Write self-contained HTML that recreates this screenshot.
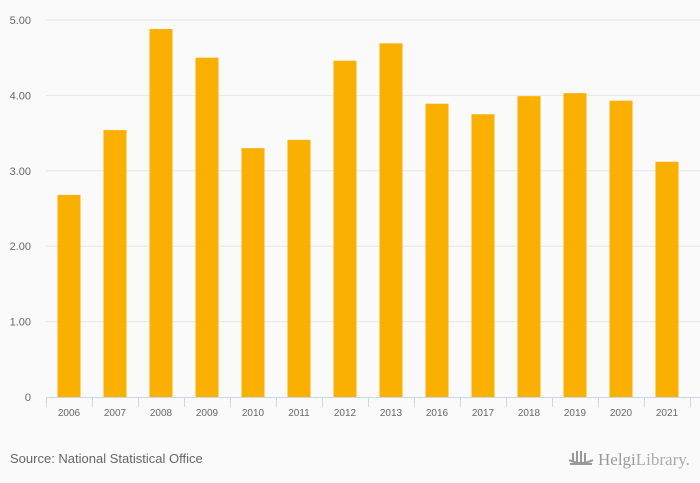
<!DOCTYPE html>
<html><head><meta charset="utf-8"><style>
body{margin:0;background:#fafafa;font-family:"Liberation Sans",sans-serif;}
svg{display:block}
</style></head><body>
<svg width="700" height="483" id="c">
<rect width="700" height="483" fill="#fafafa"/>
<text x="10" y="463" font-size="13" fill="#666">Source: National Statistical Office</text>
<g>
<text x="598" y="465" font-size="17" fill="#999" font-family="Liberation Serif, serif">Helgi<tspan font-weight="normal" fill="#aaa">Library.</tspan></text>
<path d="M570 464 h22 M573 462 v-9 M577 462 v-11 M581 462 v-11 M585 462 v-9 M569 460 q12 6 24 0" stroke="#999" stroke-width="2" fill="none"/>
</g>
</svg>
<script>
const categories=["2006","2007","2008","2009","2010","2011","2012","2013","2016","2017","2018","2019","2020","2021"];
const values=[2.68,3.54,4.88,4.50,3.30,3.41,4.46,4.69,3.89,3.75,3.99,4.03,3.93,3.12];
const yTicks=[0,1,2,3,4,5];
const yTickLabels=["0","1.00","2.00","3.00","4.00","5.00"];
const svg=document.getElementById('c');
const NS="http://www.w3.org/2000/svg";
const x0=46,pitch=46,y0=397,yTop=20,yMax=5;
const y=v=>y0-(v/yMax)*(y0-yTop);
const xc=i=>x0+pitch*i+pitch/2;
function mk(t,a){const e=document.createElementNS(NS,t);for(const k in a)e.setAttribute(k,a[k]);svg.appendChild(e);return e;}
yTicks.forEach((t,i)=>{
 if(t>0){const g=mk('line',{x1:x0,x2:700,y1:y(t),y2:y(t),stroke:'#e6e6e6','stroke-width':1});
 
 }
 const l=mk('text',{x:31,y:y(t)+4,'font-size':11,fill:'#666','text-anchor':'end'});
 l.textContent=yTickLabels[i];
 
 
});
values.forEach((v,i)=>{
 const b=mk('rect',{x:xc(i)-11.5,y:y(v),width:23,height:y0-y(v),fill:'#f9b000'});
 
 
 const t=mk('text',{x:xc(i),y:416,'font-size':10,fill:'#666','text-anchor':'middle'});
 t.textContent=categories[i];
 
 
});
const ax=mk('line',{x1:x0,x2:700,y1:y0+0.5,y2:y0+0.5,stroke:'#ccd6eb','stroke-width':1});


for(let i=0;i<=categories.length;i++){
 const k=mk('line',{x1:x0+pitch*i+0.5,x2:x0+pitch*i+0.5,y1:y0,y2:407,stroke:'#ccd6eb','stroke-width':1});
 
 
}
</script>
</body></html>
